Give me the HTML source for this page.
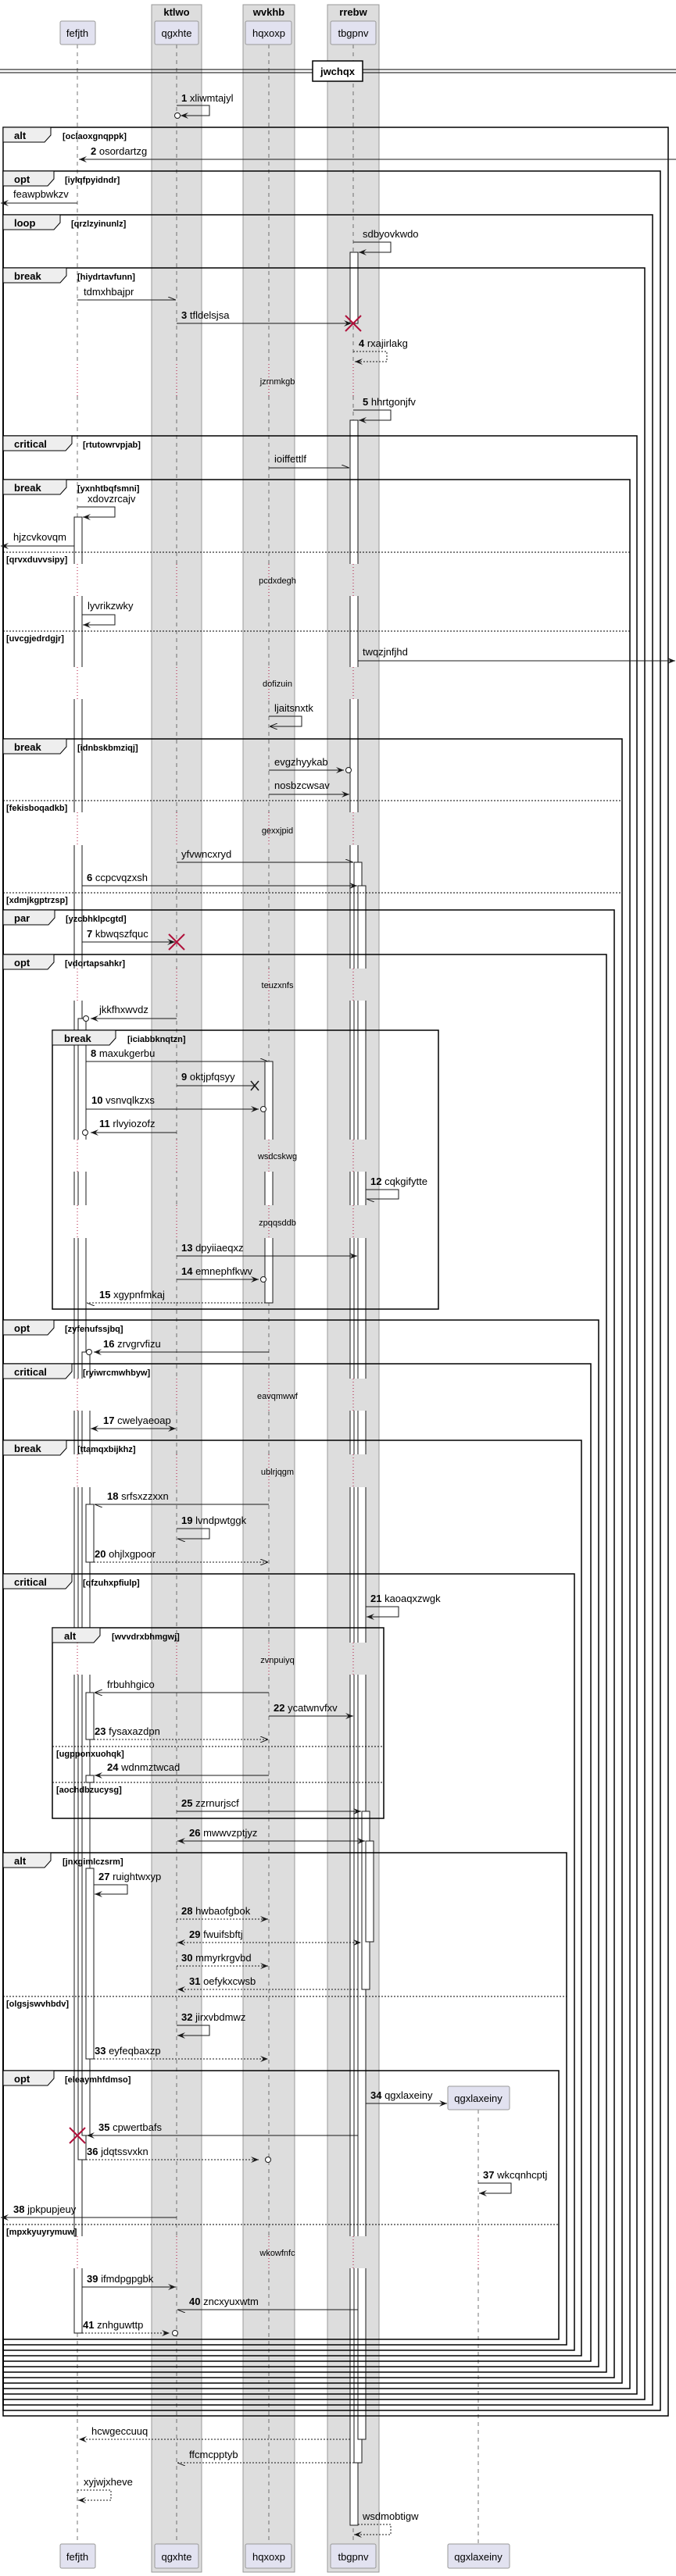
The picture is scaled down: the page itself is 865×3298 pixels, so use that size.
<!DOCTYPE html>
<html><head><meta charset="utf-8"><style>
html,body{margin:0;padding:0;background:#fff}
svg{display:block}
text{font-family:"Liberation Sans",sans-serif;font-size:13px;fill:#000}
.c{font-size:11px;font-weight:bold}
.t{font-size:13px;font-weight:bold}
.d{font-size:11px}
.m line,.m path{stroke:#181818;stroke-width:1;fill:none}
.ds{stroke-dasharray:2,2}
</style></head><body>
<svg width="865" height="3298" viewBox="0 0 865 3298" xmlns="http://www.w3.org/2000/svg">
<defs>
<marker id="a" viewBox="0 0 10 8" refX="10" refY="4" markerWidth="10" markerHeight="8" markerUnits="userSpaceOnUse" orient="auto-start-reverse"><path d="M0,0 L10,4 L0,8 L4,4 Z" fill="#181818"/></marker>
<marker id="o" viewBox="0 0 10 8" refX="10" refY="4" markerWidth="10" markerHeight="8" markerUnits="userSpaceOnUse" orient="auto-start-reverse"><path d="M0,0 L10,4 L0,8" fill="none" stroke="#181818"/></marker>
<marker id="h" viewBox="0 0 10 8" refX="10" refY="4" markerWidth="10" markerHeight="8" markerUnits="userSpaceOnUse" orient="auto"><path d="M0,0 L10,4" fill="none" stroke="#181818"/></marker>
</defs>

<!-- group boxes -->
<g fill="#dddddd" stroke="#999">
<rect x="194" y="6" width="64" height="3287"/>
<rect x="311" y="6" width="66" height="3287"/>
<rect x="419" y="6" width="66" height="3287"/>
</g>
<text class="t" x="226" y="20" text-anchor="middle">ktlwo</text>
<text class="t" x="344" y="20" text-anchor="middle">wvkhb</text>
<text class="t" x="452" y="20" text-anchor="middle">rrebw</text>

<!-- lifelines -->
<g stroke="#555" stroke-dasharray="5,5" stroke-width="0.8">
<line x1="99" y1="57" x2="99" y2="3257"/>
<line x1="226" y1="57" x2="226" y2="3257"/>
<line x1="344" y1="57" x2="344" y2="3257"/>
<line x1="452" y1="57" x2="452" y2="3257"/>
<line x1="612" y1="2701" x2="612" y2="3257"/>
</g>

<!-- participants -->
<g fill="#e2e2f0" stroke="#999">
<rect x="77" y="27" width="45" height="30" rx="2"/>
<rect x="198" y="27" width="56" height="30" rx="2"/>
<rect x="314" y="27" width="59" height="30" rx="2"/>
<rect x="423" y="27" width="58" height="30" rx="2"/>
<rect x="77" y="3257" width="45" height="31" rx="2"/>
<rect x="198" y="3257" width="56" height="31" rx="2"/>
<rect x="314" y="3257" width="59" height="31" rx="2"/>
<rect x="423" y="3257" width="58" height="31" rx="2"/>
<rect x="573" y="3257" width="79" height="31" rx="2"/>
<rect x="573" y="2671" width="79" height="30" rx="2"/>
</g>
<g text-anchor="middle">
<text x="99" y="47">fefjth</text><text x="226" y="47">qgxhte</text><text x="344" y="47">hqxoxp</text><text x="452" y="47">tbgpnv</text>
<text x="99" y="3278">fefjth</text><text x="226" y="3278">qgxhte</text><text x="344" y="3278">hqxoxp</text><text x="452" y="3278">tbgpnv</text><text x="612" y="3278">qgxlaxeiny</text>
<text x="612" y="2691">qgxlaxeiny</text>
</g>

<!-- divider -->
<line x1="0" y1="89" x2="865" y2="89" stroke="#000"/>
<line x1="0" y1="93" x2="865" y2="93" stroke="#000"/>
<rect x="400" y="78" width="64" height="26" fill="#fff" stroke="#000" stroke-width="1.5"/>
<text class="t" x="432" y="96" text-anchor="middle">jwchqx</text>

<!-- activations -->
<g fill="#fff" stroke="#181818">
<rect x="448" y="323" width="10" height="91"/>
<rect x="448" y="538" width="10" height="2695"/>
<rect x="453" y="1104" width="10" height="2049"/>
<rect x="458" y="1134" width="10" height="1989"/>
<rect x="463" y="2319" width="10" height="228"/>
<rect x="468" y="2357" width="10" height="129"/>
<rect x="339" y="1359" width="10" height="309"/>
<rect x="95" y="662" width="10" height="2325"/>
<rect x="100" y="1304" width="10" height="1461"/>
<rect x="105" y="1731" width="10" height="1003"/>
<rect x="110" y="1926" width="10" height="74"/>
<rect x="110" y="2167" width="10" height="60"/>
<rect x="110" y="2273" width="10" height="9"/>
<rect x="110" y="2392" width="10" height="244"/>
</g>

<!-- delays -->
<g>
<g fill="#fff"><rect x="88" y="466" width="36" height="41"/><rect x="88" y="722" width="36" height="41"/><rect x="88" y="854" width="36" height="41"/><rect x="88" y="1040" width="36" height="42"/><rect x="88" y="1240" width="36" height="41"/><rect x="88" y="1459" width="36" height="41"/><rect x="88" y="1543" width="36" height="42"/><rect x="88" y="1765" width="36" height="41"/><rect x="88" y="1862" width="36" height="42"/><rect x="88" y="2103" width="36" height="41"/><rect x="88" y="2863" width="36" height="41"/><rect x="604" y="2863" width="16" height="41"/></g>
<g fill="#dddddd">
<rect x="220" y="466" width="12" height="41"/><rect x="333" y="466" width="22" height="41"/><rect x="440" y="466" width="42" height="41"/>
<rect x="220" y="722" width="12" height="41"/><rect x="333" y="722" width="22" height="41"/><rect x="440" y="722" width="42" height="41"/>
<rect x="220" y="854" width="12" height="41"/><rect x="333" y="854" width="22" height="41"/><rect x="440" y="854" width="42" height="41"/>
<rect x="220" y="1040" width="12" height="42"/><rect x="333" y="1040" width="22" height="42"/><rect x="440" y="1040" width="42" height="42"/>
<rect x="220" y="1240" width="12" height="41"/><rect x="333" y="1240" width="22" height="41"/><rect x="440" y="1240" width="42" height="41"/>
<rect x="220" y="1459" width="12" height="41"/><rect x="333" y="1459" width="22" height="41"/><rect x="440" y="1459" width="42" height="41"/>
<rect x="220" y="1543" width="12" height="42"/><rect x="333" y="1543" width="22" height="42"/><rect x="440" y="1543" width="42" height="42"/>
<rect x="220" y="1765" width="12" height="41"/><rect x="333" y="1765" width="22" height="41"/><rect x="440" y="1765" width="42" height="41"/>
<rect x="220" y="1862" width="12" height="42"/><rect x="333" y="1862" width="22" height="42"/><rect x="440" y="1862" width="42" height="42"/>
<rect x="220" y="2103" width="12" height="41"/><rect x="333" y="2103" width="22" height="41"/><rect x="440" y="2103" width="42" height="41"/>
<rect x="220" y="2863" width="12" height="41"/><rect x="333" y="2863" width="22" height="41"/><rect x="440" y="2863" width="42" height="41"/>
</g>
<g stroke="#b0103a" stroke-dasharray="1,3" stroke-width="1">
<path d="M99,466V507M226,466V507M344,466V507M452,466V507"/>
<path d="M99,722V763M226,722V763M344,722V763M452,722V763"/>
<path d="M99,854V895M226,854V895M344,854V895M452,854V895"/>
<path d="M99,1040V1082M226,1040V1082M344,1040V1082M452,1040V1082"/>
<path d="M99,1240V1281M226,1240V1281M344,1240V1281M452,1240V1281"/>
<path d="M99,1459V1500M226,1459V1500M344,1459V1500M452,1459V1500"/>
<path d="M99,1543V1585M226,1543V1585M344,1543V1585M452,1543V1585"/>
<path d="M99,1765V1806M226,1765V1806M344,1765V1806M452,1765V1806"/>
<path d="M99,1862V1904M226,1862V1904M344,1862V1904M452,1862V1904"/>
<path d="M99,2103V2144M226,2103V2144M344,2103V2144M452,2103V2144"/>
<path d="M99,2863V2904M226,2863V2904M344,2863V2904M452,2863V2904M612,2863V2904"/>
</g>
<g class="d" text-anchor="middle">
<text class="d" x="355" y="492">jzrnmkgb</text><text class="d" x="355" y="747">pcdxdegh</text><text class="d" x="355" y="879">dofizuin</text>
<text class="d" x="355" y="1067">gexxjpid</text><text class="d" x="355" y="1265">teuzxnfs</text><text class="d" x="355" y="1484">wsdcskwg</text>
<text class="d" x="355" y="1569">zpqqsddb</text><text class="d" x="355" y="1791">eavqmwwf</text><text class="d" x="355" y="1888">ublrjqgm</text>
<text class="d" x="355" y="2129">zvnpuiyq</text><text class="d" x="355" y="2888">wkowfnfc</text>
</g>
</g>

<!-- frames -->
<g fill="none" stroke="#000" stroke-width="1.5">
<rect x="4" y="163" width="851" height="2930"/>
<rect x="4" y="219" width="841" height="2867"/>
<rect x="4" y="275" width="831" height="2804"/>
<rect x="4" y="343" width="821" height="2729"/>
<rect x="4" y="558" width="811" height="2507"/>
<rect x="4" y="614" width="802" height="2444"/>
<rect x="4" y="946" width="792" height="2105"/>
<rect x="4" y="1165" width="782" height="1879"/>
<rect x="4" y="1222" width="772" height="1815"/>
<rect x="67" y="1319" width="494" height="357"/>
<rect x="4" y="1690" width="762" height="1340"/>
<rect x="4" y="1746" width="752" height="1277"/>
<rect x="4" y="1844" width="740" height="1172"/>
<rect x="4" y="2015" width="731" height="994"/>
<rect x="67" y="2084" width="424" height="244"/>
<rect x="4" y="2372" width="721" height="630"/>
<rect x="4" y="2651" width="711" height="344"/>
</g>
<g fill="#eeeeee" stroke="#000" stroke-width="1">
<path d="M4,163H65V173L57,182H4Z"/>
<path d="M4,219H69V229L61,238H4Z"/>
<path d="M4,275H77V285L69,294H4Z"/>
<path d="M4,343H85V353L77,362H4Z"/>
<path d="M4,558H92V568L84,577H4Z"/>
<path d="M4,614H85V624L77,633H4Z"/>
<path d="M4,946H85V956L77,965H4Z"/>
<path d="M4,1165H70V1175L62,1184H4Z"/>
<path d="M4,1222H69V1232L61,1241H4Z"/>
<path d="M67,1319H148V1329L140,1338H67Z"/>
<path d="M4,1690H69V1700L61,1709H4Z"/>
<path d="M4,1746H92V1756L84,1765H4Z"/>
<path d="M4,1844H85V1854L77,1863H4Z"/>
<path d="M4,2015H92V2025L84,2034H4Z"/>
<path d="M67,2084H128V2094L120,2103H67Z"/>
<path d="M4,2372H65V2382L57,2391H4Z"/>
<path d="M4,2651H69V2661L61,2670H4Z"/>
</g>
<g class="t">
<text class="t" x="18" y="178">alt</text><text class="c" x="80" y="178">[oclaoxgnqppk]</text>
<text class="t" x="18" y="234">opt</text><text class="c" x="83" y="234">[iylqfpyidndr]</text>
<text class="t" x="18" y="290">loop</text><text class="c" x="91" y="290">[qrzlzyinunlz]</text>
<text class="t" x="18" y="358">break</text><text class="c" x="99" y="358">[hiydrtavfunn]</text>
<text class="t" x="18" y="573">critical</text><text class="c" x="106" y="573">[rtutowrvpjab]</text>
<text class="t" x="18" y="629">break</text><text class="c" x="99" y="629">[yxnhtbqfsmni]</text>
<text class="t" x="18" y="961">break</text><text class="c" x="99" y="961">[idnbskbmziqj]</text>
<text class="t" x="18" y="1180">par</text><text class="c" x="84" y="1180">[yzcbhklpcgtd]</text>
<text class="t" x="18" y="1237">opt</text><text class="c" x="83" y="1237">[vdortapsahkr]</text>
<text class="t" x="82" y="1334">break</text><text class="c" x="163" y="1334">[iciabbknqtzn]</text>
<text class="t" x="18" y="1705">opt</text><text class="c" x="83" y="1705">[zyfenufssjbq]</text>
<text class="t" x="18" y="1761">critical</text><text class="c" x="106" y="1761">[ryiwrcmwhbyw]</text>
<text class="t" x="18" y="1859">break</text><text class="c" x="99" y="1859">[ttamqxbijkhz]</text>
<text class="t" x="18" y="2030">critical</text><text class="c" x="106" y="2030">[qfzuhxpfiulp]</text>
<text class="t" x="82" y="2099">alt</text><text class="c" x="143" y="2099">[wvvdrxbhmgwj]</text>
<text class="t" x="18" y="2387">alt</text><text class="c" x="80" y="2387">[jnxgimlczsrm]</text>
<text class="t" x="18" y="2666">opt</text><text class="c" x="83" y="2666">[eleaymhfdmso]</text>
</g>
<!-- separators -->
<g stroke="#000" stroke-dasharray="2,2" stroke-width="1">
<line x1="4" y1="707" x2="806" y2="707"/><line x1="4" y1="808" x2="806" y2="808"/>
<line x1="4" y1="1025" x2="796" y2="1025"/><line x1="4" y1="1143" x2="796" y2="1143"/>
<line x1="67" y1="2236" x2="491" y2="2236"/><line x1="67" y1="2282" x2="491" y2="2282"/>
<line x1="4" y1="2556" x2="725" y2="2556"/><line x1="4" y1="2848" x2="715" y2="2848"/>
</g>
<g>
<text class="c" x="8" y="720">[qrvxduvvsipy]</text><text class="c" x="8" y="821">[uvcgjedrdgjr]</text>
<text class="c" x="8" y="1038">[fekisboqadkb]</text><text class="c" x="8" y="1156">[xdmjkgptrzsp]</text>
<text class="c" x="72" y="2249">[ugpponxuohqk]</text><text class="c" x="72" y="2295">[aochdbzucysg]</text>
<text class="c" x="8" y="2569">[olgsjswvhbdv]</text><text class="c" x="8" y="2861">[mpxkyuyrymuw]</text>
</g>

<!-- messages -->
<g class="m">
<path d="M226,135H268V148H231" marker-end="url(#a)"/>
<line x1="865" y1="204" x2="101" y2="204" marker-end="url(#a)"/>
<line x1="99" y1="260" x2="1" y2="260" marker-end="url(#a)"/>
<path d="M452,310H500V323H459" marker-end="url(#a)"/>
<line x1="99" y1="384" x2="225" y2="384" marker-end="url(#h)"/>
<line x1="226" y1="414" x2="450" y2="414" marker-end="url(#a)"/>
<path class="ds" d="M452,450H495V463H454" marker-end="url(#a)"/>
<path d="M452,525H500V538H459" marker-end="url(#a)"/>
<line x1="344" y1="599" x2="447" y2="599" marker-end="url(#h)"/>
<path d="M99,649H147V662H106" marker-end="url(#a)"/>
<line x1="95" y1="699" x2="1" y2="699" marker-end="url(#a)"/>
<path d="M105,787H147V800H106" marker-end="url(#a)"/>
<line x1="458" y1="846" x2="864" y2="846" marker-end="url(#a)"/>
<path d="M344,917H386V930H345" marker-end="url(#o)"/>
<line x1="344" y1="986" x2="440" y2="986" marker-end="url(#a)"/>
<line x1="344" y1="1017" x2="447" y2="1017" marker-end="url(#a)"/>
<line x1="226" y1="1104" x2="452" y2="1104" marker-end="url(#h)"/>
<line x1="105" y1="1134" x2="457" y2="1134" marker-end="url(#a)"/>
<line x1="105" y1="1206" x2="224" y2="1206" marker-end="url(#a)"/>
<line x1="226" y1="1304" x2="116" y2="1304" marker-end="url(#a)"/>
<line x1="110" y1="1359" x2="343" y2="1359" marker-end="url(#h)"/>
<line x1="226" y1="1390" x2="326" y2="1390"/>
<line x1="110" y1="1420" x2="331" y2="1420" marker-end="url(#a)"/>
<line x1="226" y1="1450" x2="116" y2="1450" marker-end="url(#a)"/>
<path d="M468,1523H510V1535H469" marker-end="url(#h)"/>
<line x1="226" y1="1608" x2="457" y2="1608" marker-end="url(#a)"/>
<line x1="226" y1="1638" x2="331" y2="1638" marker-end="url(#a)"/>
<line class="ds" x1="344" y1="1668" x2="111" y2="1668" marker-end="url(#h)"/>
<line x1="344" y1="1731" x2="120" y2="1731" marker-end="url(#a)"/>
<line x1="116" y1="1829" x2="225" y2="1829" marker-start="url(#a)" marker-end="url(#a)"/>
<line x1="344" y1="1926" x2="121" y2="1926" marker-end="url(#h)"/>
<path d="M226,1957H268V1970H227" marker-end="url(#h)"/>
<line class="ds" x1="120" y1="2000" x2="343" y2="2000" marker-end="url(#o)"/>
<path d="M468,2057H510V2070H469" marker-end="url(#a)"/>
<line x1="344" y1="2167" x2="121" y2="2167" marker-end="url(#o)"/>
<line x1="344" y1="2197" x2="452" y2="2197" marker-end="url(#a)"/>
<line class="ds" x1="120" y1="2227" x2="343" y2="2227" marker-end="url(#o)"/>
<line x1="344" y1="2273" x2="121" y2="2273" marker-end="url(#a)"/>
<line x1="226" y1="2319" x2="462" y2="2319" marker-end="url(#a)"/>
<line x1="227" y1="2357" x2="467" y2="2357" marker-start="url(#a)" marker-end="url(#a)"/>
<path d="M120,2413H163V2425H121" marker-end="url(#a)"/>
<line class="ds" x1="226" y1="2457" x2="343" y2="2457" marker-end="url(#a)"/>
<line class="ds" x1="227" y1="2487" x2="462" y2="2487" marker-start="url(#a)" marker-end="url(#a)"/>
<line class="ds" x1="226" y1="2517" x2="343" y2="2517" marker-end="url(#a)"/>
<line class="ds" x1="458" y1="2547" x2="227" y2="2547" marker-end="url(#a)"/>
<path d="M226,2593H268V2606H227" marker-end="url(#a)"/>
<line class="ds" x1="120" y1="2636" x2="343" y2="2636" marker-end="url(#a)"/>
<line x1="468" y1="2693" x2="572" y2="2693" marker-end="url(#a)"/>
<line x1="458" y1="2734" x2="111" y2="2734" marker-end="url(#a)"/>
<line class="ds" x1="110" y1="2765" x2="331" y2="2765" marker-end="url(#a)"/>
<path d="M612,2795H654V2808H613" marker-end="url(#a)"/>
<line x1="226" y1="2839" x2="1" y2="2839" marker-end="url(#a)"/>
<line x1="105" y1="2928" x2="225" y2="2928" marker-end="url(#a)"/>
<line x1="458" y1="2957" x2="227" y2="2957" marker-end="url(#h)"/>
<line class="ds" x1="105" y1="2987" x2="217" y2="2987" marker-end="url(#a)"/>
<line class="ds" x1="448" y1="3123" x2="101" y2="3123" marker-end="url(#a)"/>
<line class="ds" x1="453" y1="3153" x2="227" y2="3153" marker-end="url(#h)"/>
<path class="ds" d="M99,3188H142V3201H100" marker-end="url(#a)"/>
<path class="ds" d="M458,3232H500V3245H453" marker-end="url(#a)"/>
</g>
<!-- circles -->
<g fill="#fff" stroke="#181818">
<circle cx="227" cy="148" r="3.5"/><circle cx="446" cy="986" r="3.5"/><circle cx="110" cy="1304" r="3.5"/>
<circle cx="337" cy="1420" r="3.5"/><circle cx="109" cy="1450" r="3.5"/><circle cx="337" cy="1638" r="3.5"/>
<circle cx="114" cy="1731" r="3.5"/><circle cx="343" cy="2765" r="3.5"/><circle cx="224" cy="2987" r="3.5"/>
</g>
<!-- destroy X -->
<g stroke="#b0103a" stroke-width="2">
<path d="M442,404L462,424M442,424L462,404"/>
<path d="M216,1196L236,1216M216,1216L236,1196"/>
<path d="M89,2724L109,2744M89,2744L109,2724"/>
</g>
<path d="M321,1384L331,1396M321,1396L331,1384" stroke="#181818" stroke-width="1.5"/>

<!-- labels -->
<g>
<text x="232" y="130"><tspan font-weight="bold">1</tspan> xliwmtajyl</text>
<text x="116" y="198"><tspan font-weight="bold">2</tspan> osordartzg</text>
<text x="17" y="253">feawpbwkzv</text>
<text x="464" y="304">sdbyovkwdo</text>
<text x="107" y="378">tdmxhbajpr</text>
<text x="232" y="408"><tspan font-weight="bold">3</tspan> tfldelsjsa</text>
<text x="459" y="444"><tspan font-weight="bold">4</tspan> rxajirlakg</text>
<text x="464" y="519"><tspan font-weight="bold">5</tspan> hhrtgonjfv</text>
<text x="351" y="592">ioiffettlf</text>
<text x="112" y="643">xdovzrcajv</text>
<text x="17" y="692">hjzcvkovqm</text>
<text x="112" y="780">lyvrikzwky</text>
<text x="464" y="839">twqzjnfjhd</text>
<text x="351" y="911">ljaitsnxtk</text>
<text x="351" y="980">evgzhyykab</text>
<text x="351" y="1010">nosbzcwsav</text>
<text x="232" y="1098">yfvwncxryd</text>
<text x="111" y="1128"><tspan font-weight="bold">6</tspan> ccpcvqzxsh</text>
<text x="111" y="1200"><tspan font-weight="bold">7</tspan> kbwqszfquc</text>
<text x="127" y="1297">jkkfhxwvdz</text>
<text x="116" y="1353"><tspan font-weight="bold">8</tspan> maxukgerbu</text>
<text x="232" y="1383"><tspan font-weight="bold">9</tspan> oktjpfqsyy</text>
<text x="117" y="1413"><tspan font-weight="bold">10</tspan> vsnvqlkzxs</text>
<text x="127" y="1443"><tspan font-weight="bold">11</tspan> rlvyiozofz</text>
<text x="474" y="1517"><tspan font-weight="bold">12</tspan> cqkgifytte</text>
<text x="232" y="1602"><tspan font-weight="bold">13</tspan> dpyiiaeqxz</text>
<text x="232" y="1632"><tspan font-weight="bold">14</tspan> emnephfkwv</text>
<text x="127" y="1662"><tspan font-weight="bold">15</tspan> xgypnfmkaj</text>
<text x="132" y="1725"><tspan font-weight="bold">16</tspan> zrvgrvfizu</text>
<text x="132" y="1823"><tspan font-weight="bold">17</tspan> cwelyaeoap</text>
<text x="137" y="1920"><tspan font-weight="bold">18</tspan> srfsxzzxxn</text>
<text x="232" y="1951"><tspan font-weight="bold">19</tspan> lvndpwtggk</text>
<text x="121" y="1994"><tspan font-weight="bold">20</tspan> ohjlxgpoor</text>
<text x="474" y="2051"><tspan font-weight="bold">21</tspan> kaoaqxzwgk</text>
<text x="137" y="2161">frbuhhgico</text>
<text x="350" y="2191"><tspan font-weight="bold">22</tspan> ycatwnvfxv</text>
<text x="121" y="2221"><tspan font-weight="bold">23</tspan> fysaxazdpn</text>
<text x="137" y="2267"><tspan font-weight="bold">24</tspan> wdnmztwcad</text>
<text x="232" y="2313"><tspan font-weight="bold">25</tspan> zzrnurjscf</text>
<text x="242" y="2351"><tspan font-weight="bold">26</tspan> mwwvzptjyz</text>
<text x="126" y="2407"><tspan font-weight="bold">27</tspan> ruightwxyp</text>
<text x="232" y="2451"><tspan font-weight="bold">28</tspan> hwbaofgbok</text>
<text x="242" y="2481"><tspan font-weight="bold">29</tspan> fwuifsbftj</text>
<text x="232" y="2511"><tspan font-weight="bold">30</tspan> mmyrkrgvbd</text>
<text x="242" y="2541"><tspan font-weight="bold">31</tspan> oefykxcwsb</text>
<text x="232" y="2587"><tspan font-weight="bold">32</tspan> jirxvbdmwz</text>
<text x="121" y="2630"><tspan font-weight="bold">33</tspan> eyfeqbaxzp</text>
<text x="474" y="2687"><tspan font-weight="bold">34</tspan> qgxlaxeiny</text>
<text x="126" y="2728"><tspan font-weight="bold">35</tspan> cpwertbafs</text>
<text x="111" y="2759"><tspan font-weight="bold">36</tspan> jdqtssvxkn</text>
<text x="618" y="2789"><tspan font-weight="bold">37</tspan> wkcqnhcptj</text>
<text x="17" y="2833"><tspan font-weight="bold">38</tspan> jpkpupjeuy</text>
<text x="111" y="2922"><tspan font-weight="bold">39</tspan> ifmdpgpgbk</text>
<text x="242" y="2951"><tspan font-weight="bold">40</tspan> zncxyuxwtm</text>
<text x="106" y="2981"><tspan font-weight="bold">41</tspan> znhguwttp</text>
<text x="117" y="3117">hcwgeccuuq</text>
<text x="242" y="3147">ffcmcpptyb</text>
<text x="107" y="3182">xyjwjxheve</text>
<text x="464" y="3226">wsdmobtigw</text>
</g>
</svg>
</body></html>
